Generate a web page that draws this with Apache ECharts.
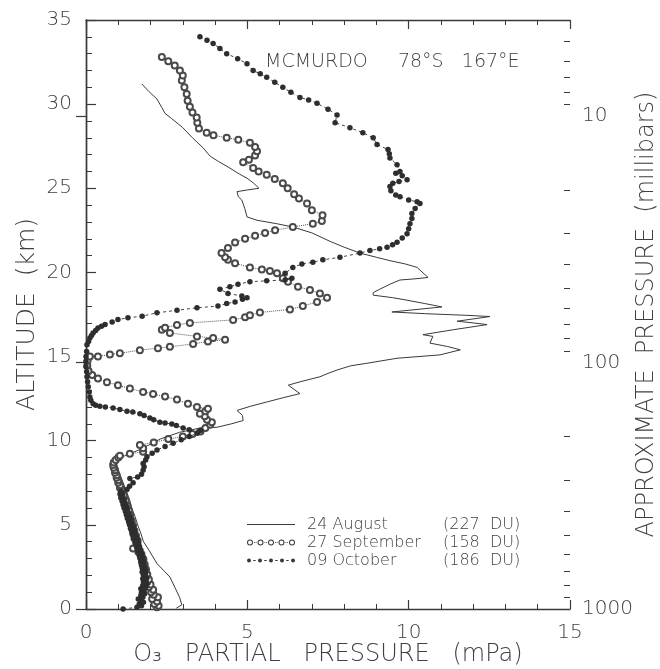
<!DOCTYPE html>
<html><head><meta charset="utf-8">
<script src="https://cdn.jsdelivr.net/npm/echarts@6/dist/echarts.min.js"></script>
<style>html,body{margin:0;padding:0;background:#fff}#c{width:660px;height:669px}</style>
</head><body><div id="c"></div><script>
// ---- data ----
const seriesNames = ['24 August', '27 September', '09 October'];
const totalOzone = ['(227  DU)', '(158  DU)', '(186  DU)'];
const stationLabel = 'MCMURDO     78°S   167°E';
const pressureMajor = [10, 100, 1000];
const pressureMinor = [5, 6, 7, 8, 9, 20, 30, 40, 50, 60, 70, 80, 90, 200, 300, 400, 500, 600, 700, 800, 900];
const kmPerPressureDecade = 14.65;

// [O3 partial pressure mPa, altitude km]
const augustProfile = [
[1.73,31.2],[1.95,30.75],[2.2,30.3],[2.35,29.8],[2.45,29.45],[2.65,29.15],[3.0,28.6],[3.3,28.0],[3.63,27.4],[3.85,26.9],[4.1,26.6],[4.46,26.2],[4.75,25.85],[4.99,25.6],[5.2,25.3],[5.36,25.0],[5.0,24.9],[4.68,24.8],[4.72,24.5],[4.83,24.3],[4.92,23.8],[4.99,23.3],[5.3,23.1],[5.9,22.9],[6.41,22.7],[7.0,22.35],[7.56,21.85],[8.0,21.5],[8.49,21.15],[9.0,20.9],[9.42,20.7],[9.9,20.5],[10.26,20.3],[10.6,19.7],[10.2,19.62],[9.73,19.55],[9.42,19.3],[9.1,19.0],[8.9,18.8],[8.9,18.65],[9.5,18.5],[9.95,18.35],[10.5,18.15],[11.03,17.95],[10.26,17.8],[9.48,17.65],[10.5,17.55],[11.8,17.45],[12.52,17.38],[11.5,17.1],[12.0,17.0],[12.43,16.9],[11.4,16.6],[10.44,16.3],[10.75,16.2],[10.66,15.8],[11.2,15.6],[11.6,15.4],[10.97,15.1],[9.64,14.9],[8.7,14.6],[8.2,14.45],[7.78,14.2],[7.5,14.0],[7.25,13.8],[6.63,13.5],[6.27,13.3],[6.45,13.05],[6.63,12.8],[6.1,12.55],[5.6,12.3],[5.1,12.05],[4.68,11.8],[4.85,11.5],[4.87,11.2],[4.5,11.0],[4.06,10.8],[3.53,10.75],[2.9,10.5],[2.3,10.1],[1.7,9.5],[1.2,9.1],[1.0,9.0],[0.95,8.6],[1.05,8.0],[1.15,7.5],[1.25,7.0],[1.35,6.5],[1.42,6.0],[1.52,5.5],[1.6,5.0],[1.7,4.5],[1.78,4.0],[1.95,3.5],[2.2,2.7],[2.4,2.3],[2.6,1.9],[2.75,1.3],[2.9,0.7],[2.97,0.25],[2.8,0.05]
];
const septemberProfile = [
[2.2,0.1],[2.25,0.2],[2.12,0.3],[2.2,0.45],[2.05,0.6],[2.23,0.7],[2.1,0.85],[2.02,1.0],[2.08,1.15],[1.95,1.3],[2.0,1.45],[1.9,1.6],[1.95,1.75],[1.86,1.9],[1.9,2.05],[1.82,2.2],[1.86,2.35],[1.78,2.5],[1.82,2.65],[1.74,2.8],[1.78,2.95],[1.7,3.1],[1.72,3.25],[1.62,3.4],[1.46,3.6],[1.6,3.75],[1.56,3.9],[1.6,4.05],[1.5,4.2],[1.55,4.35],[1.46,4.5],[1.5,4.65],[1.42,4.8],[1.46,4.95],[1.38,5.1],[1.42,5.25],[1.34,5.4],[1.37,5.55],[1.3,5.7],[1.33,5.85],[1.25,6.0],[1.28,6.15],[1.2,6.3],[1.23,6.45],[1.16,6.6],[1.18,6.75],[1.1,6.9],[1.12,7.05],[1.05,7.2],[1.06,7.35],[1.0,7.5],[1.0,7.65],[0.95,7.8],[0.95,7.95],[0.9,8.1],[0.9,8.25],[0.86,8.4],[0.84,8.55],[0.86,8.7],[0.92,8.85],[1.0,9.0],[1.05,9.1],[1.36,9.22],[1.77,9.35],[1.77,9.55],[1.67,9.75],[2.1,9.9],[2.55,10.1],[3.0,10.25],[3.3,10.4],[3.55,10.55],[3.7,10.75],[3.85,10.95],[3.9,11.1],[3.75,11.25],[3.68,11.45],[3.53,11.6],[3.7,11.75],[3.78,11.9],[3.44,12.0],[3.16,12.2],[2.82,12.45],[2.45,12.62],[2.08,12.78],[1.77,12.9],[1.36,13.1],[0.99,13.3],[0.65,13.48],[0.37,13.7],[0.19,13.9],[0.08,14.15],[0.04,14.45],[0.05,14.75],[0.12,15.0],[0.37,15.0],[0.74,15.12],[1.05,15.2],[1.67,15.38],[2.23,15.5],[2.6,15.58],[3.32,15.75],[3.78,15.9],[4.31,16.0],[3.94,16.1],[3.44,16.2],[2.6,16.4],[2.35,16.6],[2.45,16.72],[2.82,16.88],[3.22,17.0],[4.56,17.18],[4.93,17.33],[5.08,17.45],[5.39,17.62],[6.32,17.8],[6.72,18.0],[7.16,18.25],[7.47,18.5],[7.25,18.75],[6.94,18.95],[6.57,19.15],[6.26,19.45],[6.1,19.65],[5.92,19.95],[5.7,20.08],[5.45,20.18],[5.08,20.3],[4.62,20.55],[4.4,20.75],[4.31,20.9],[4.2,21.15],[4.4,21.45],[4.62,21.78],[4.93,22.0],[5.24,22.18],[5.55,22.35],[5.86,22.5],[6.41,22.7],[7.03,22.9],[7.31,23.05],[7.33,23.4],[7.0,23.7],[6.85,24.1],[6.6,24.4],[6.45,24.65],[6.25,25.0],[6.1,25.3],[5.85,25.55],[5.6,25.8],[5.35,26.0],[5.18,26.2],[4.87,26.55],[5.05,26.7],[5.24,26.95],[5.3,27.2],[5.24,27.45],[5.08,27.7],[4.72,27.88],[4.36,28.0],[3.95,28.15],[3.74,28.3],[3.5,28.55],[3.45,28.9],[3.43,29.2],[3.3,29.5],[3.22,29.85],[3.15,30.2],[3.12,30.6],[3.05,31.0],[2.97,31.4],[3.0,31.7],[2.91,32.0],[2.75,32.3],[2.55,32.55],[2.35,32.8]
];
const octoberProfile = [
[1.15,0.0],[1.58,0.1],[1.72,0.2],[1.65,0.3],[1.78,0.4],[1.7,0.5],[1.62,0.6],[1.76,0.7],[1.7,0.8],[1.82,0.9],[1.72,1.0],[1.8,1.1],[1.7,1.2],[1.85,1.3],[1.76,1.4],[1.88,1.5],[1.78,1.6],[1.86,1.7],[1.76,1.8],[1.87,1.9],[1.78,2.0],[1.84,2.1],[1.74,2.2],[1.85,2.3],[1.75,2.4],[1.82,2.5],[1.72,2.6],[1.8,2.7],[1.7,2.8],[1.78,2.9],[1.68,3.0],[1.76,3.1],[1.65,3.2],[1.72,3.3],[1.62,3.4],[1.7,3.5],[1.58,3.6],[1.66,3.7],[1.55,3.8],[1.63,3.9],[1.52,4.0],[1.6,4.1],[1.48,4.2],[1.56,4.3],[1.45,4.4],[1.52,4.5],[1.42,4.6],[1.5,4.7],[1.38,4.8],[1.46,4.9],[1.35,5.0],[1.42,5.1],[1.32,5.2],[1.4,5.3],[1.28,5.4],[1.36,5.5],[1.25,5.6],[1.32,5.7],[1.22,5.8],[1.28,5.9],[1.18,6.0],[1.25,6.1],[1.15,6.2],[1.2,6.3],[1.12,6.4],[1.18,6.5],[1.08,6.6],[1.14,6.7],[1.06,6.8],[1.12,6.9],[1.08,7.0],[1.27,7.1],[1.35,7.3],[1.46,7.5],[1.36,7.75],[1.6,7.85],[1.72,8.0],[1.77,8.25],[1.8,8.45],[1.77,8.65],[1.85,8.85],[1.89,9.05],[2.05,9.25],[2.2,9.45],[2.45,9.65],[2.7,9.85],[2.95,10.05],[3.2,10.25],[3.45,10.45],[3.55,10.6],[3.2,10.65],[3.01,10.75],[2.8,10.9],[2.66,11.0],[2.45,11.05],[2.29,11.1],[2.1,11.25],[1.98,11.35],[1.8,11.5],[1.67,11.6],[1.45,11.7],[1.27,11.75],[1.05,11.85],[0.84,11.95],[0.6,12.0],[0.43,12.05],[0.3,12.1],[0.22,12.2],[0.15,12.4],[0.12,12.6],[0.1,12.9],[0.07,13.2],[0.05,13.5],[0.03,13.8],[0.02,14.1],[0.0,14.4],[0.0,14.7],[0.0,15.0],[0.02,15.3],[0.03,15.7],[0.08,15.9],[0.12,16.1],[0.17,16.25],[0.22,16.4],[0.3,16.55],[0.37,16.7],[0.48,16.8],[0.59,16.9],[0.81,17.05],[0.99,17.2],[1.3,17.3],[1.74,17.4],[2.2,17.6],[2.82,17.75],[3.44,17.9],[4.09,18.0],[4.36,18.15],[4.62,18.25],[4.85,18.4],[4.99,18.5],[4.83,18.6],[4.4,18.75],[4.15,19.0],[4.46,19.15],[4.71,19.3],[5.08,19.45],[5.6,19.5],[6.17,19.55],[6.38,19.65],[6.17,19.95],[6.41,20.3],[6.69,20.5],[7.03,20.6],[7.34,20.75],[7.87,20.9],[8.49,21.15],[8.8,21.3],[9.1,21.4],[9.33,21.5],[9.5,21.65],[9.64,21.8],[9.8,22.05],[9.95,22.3],[10.0,22.6],[10.04,22.9],[10.1,23.2],[10.1,23.5],[10.2,23.8],[10.35,24.1],[10.26,24.2],[10.0,24.3],[9.73,24.5],[9.6,24.6],[9.45,24.85],[9.42,25.1],[9.51,25.3],[9.7,25.4],[9.95,25.5],[9.8,25.75],[9.6,25.9],[9.73,26.0],[9.64,26.4],[9.42,26.8],[9.4,27.05],[9.36,27.3],[9.02,27.6],[8.9,28.0],[8.58,28.3],[8.18,28.6],[7.72,28.9],[7.78,29.35],[7.5,29.7],[7.16,30.05],[6.9,30.25],[6.63,30.4],[6.35,30.7],[6.1,31.0],[5.85,31.3],[5.6,31.6],[5.4,31.8],[5.18,32.0],[4.99,32.4],[4.7,32.7],[4.36,33.0],[4.15,33.3],[3.94,33.6],[3.75,33.8],[3.53,34.0]
];

// ---- styling ----
const FONT = 'DejaVu Sans';
const INK = '#3a3a3a';
const TXT = '#404040';

function ringsIcon() {
  let p = '';
  for (let i = 0; i < 5; i++) {
    const cx = 3 + i * 10.5;
    p += `M${cx-3},3a3,3 0 1,1 6,0a3,3 0 1,1 -6,0Z`;
    p += `M${cx-2},3a2,2 0 1,0 4,0a2,2 0 1,0 -4,0Z`;
    if (i < 4) { p += `M${cx+4},2.6h0.8v0.8h-0.8Z M${cx+5.7},2.6h0.8v0.8h-0.8Z`; }
  }
  return 'path://' + p;
}
function dotsIcon() {
  let p = '';
  for (let i = 0; i < 5; i++) {
    const cx = 2 + i * 11;
    p += `M${cx-2},2a2,2 0 1,1 4,0a2,2 0 1,1 -4,0Z`;
    if (i < 4) { p += `M${cx+4.2},1.6h2.5v0.8h-2.5Z`; }
  }
  return 'path://' + p;
}
const legendIcons = ['path://M0,0h48v1h-48Z', ringsIcon(), dotsIcon()];

const pMin = 3 - 35 / kmPerPressureDecade;
const chart = echarts.init(document.getElementById('c'), null, {renderer: 'canvas'});
const axisLine = {show: true, lineStyle: {color: INK, width: 1.4}};
const lbl = {fontFamily: FONT, fontSize: 20, color: TXT, fontWeight: 300};

chart.setOption({
  animation: false,
  backgroundColor: '#fff',
  grid: {left: 86, right: 90, top: 20, bottom: 60, containLabel: false, outerBoundsMode: 'none'},
  title: {
    text: stationLabel, left: 265, top: 53, padding: 0,
    textStyle: {fontFamily: FONT, fontSize: 19, fontWeight: 300, color: TXT}
  },
  legend: {
    orient: 'vertical', left: 247, top: 516, padding: 0, itemGap: 1,
    itemWidth: 48, itemHeight: 7,
    data: seriesNames.map((n, i) => ({name: n, icon: legendIcons[i], itemStyle: {color: INK, borderWidth: 0}})),
    formatter: name => `{s|}{a|${name}}{b|${totalOzone[seriesNames.indexOf(name)]}}`,
    textStyle: {
      fontFamily: FONT, fontSize: 16, color: TXT, lineHeight: 17, fontWeight: 300,
      rich: {
        s: {width: 7, fontSize: 16},
        a: {fontFamily: FONT, fontSize: 16, color: TXT, width: 136, fontWeight: 300},
        b: {fontFamily: FONT, fontSize: 16, color: TXT, fontWeight: 300}
      }
    }
  },
  xAxis: [{
    type: 'value', min: 0, max: 15, interval: 5, position: 'bottom',
    axisLine, splitLine: {show: false},
    axisTick: {show: true, inside: true, length: 9, lineStyle: {color: INK, width: 1.2}},
    minorTick: {show: true, splitNumber: 5, length: 5, lineStyle: {color: INK, width: 1}},
    axisLabel: Object.assign({margin: 14}, lbl),
    name: 'O₃   PARTIAL   PRESSURE   (mPa)', nameLocation: 'middle', nameGap: 34, nameMoveOverlap: false,
    nameTextStyle: {fontFamily: FONT, fontSize: 24, color: TXT, fontWeight: 300}
  }, {
    type: 'value', min: 0, max: 15, interval: 5, position: 'top',
    axisLine, splitLine: {show: false},
    axisTick: {show: true, inside: true, length: 9, lineStyle: {color: INK, width: 1.2}},
    minorTick: {show: true, splitNumber: 5, length: 5, lineStyle: {color: INK, width: 1}},
    axisLabel: {show: false}
  }],
  yAxis: [{
    type: 'value', min: 0, max: 35, interval: 5, position: 'left',
    axisLine, splitLine: {show: false},
    axisTick: {show: true, inside: true, length: 10, lineStyle: {color: INK, width: 1.2}},
    minorTick: {show: true, splitNumber: 5, length: 6, lineStyle: {color: INK, width: 1}},
    axisLabel: Object.assign({margin: 14}, lbl),
    name: 'ALTITUDE  (km)', nameLocation: 'middle', nameGap: 46, nameMoveOverlap: false,
    nameTextStyle: {fontFamily: FONT, fontSize: 25, color: TXT, fontWeight: 300}
  }, {
    type: 'value', min: pMin, max: 3, inverse: true, position: 'right',
    axisLine, splitLine: {show: false},
    axisTick: {show: true, inside: true, length: 10, customValues: pressureMajor.map(Math.log10), lineStyle: {color: INK, width: 1.2}},
    axisLabel: Object.assign({margin: 12, customValues: pressureMajor.map(Math.log10),
      formatter: v => String(Math.round(Math.pow(10, v)))}, lbl),
    name: 'APPROXIMATE  PRESSURE  (millibars)', nameLocation: 'middle', nameGap: 65, nameMoveOverlap: false,
    nameTextStyle: {fontFamily: FONT, fontSize: 24, color: TXT, fontWeight: 300}
  }, {
    type: 'value', min: pMin, max: 3, inverse: true, position: 'right',
    axisLine: {show: false}, splitLine: {show: false},
    axisTick: {show: true, inside: true, length: 6, customValues: pressureMinor.map(Math.log10), lineStyle: {color: INK, width: 1}},
    axisLabel: {show: false}
  }],
  series: [{
    name: seriesNames[0], type: 'line', data: augustProfile, xAxisIndex: 0, yAxisIndex: 0,
    symbol: 'none', lineStyle: {color: INK, width: 1}, itemStyle: {color: INK}, z: 2
  }, {
    name: seriesNames[1], type: 'line', data: septemberProfile, xAxisIndex: 0, yAxisIndex: 0,
    symbol: 'emptyCircle', symbolSize: 6, showSymbol: true,
    itemStyle: {color: '#4a4a4a', borderWidth: 1.2},
    lineStyle: {color: '#555', width: 1, type: 'dotted'}, z: 3
  }, {
    name: seriesNames[2], type: 'line', data: octoberProfile, xAxisIndex: 0, yAxisIndex: 0,
    symbol: 'circle', symbolSize: 5.5, showSymbol: true,
    itemStyle: {color: '#2e2e2e'},
    lineStyle: {color: '#444', width: 1, type: [3, 3]}, z: 4
  }]
});
</script></body></html>
